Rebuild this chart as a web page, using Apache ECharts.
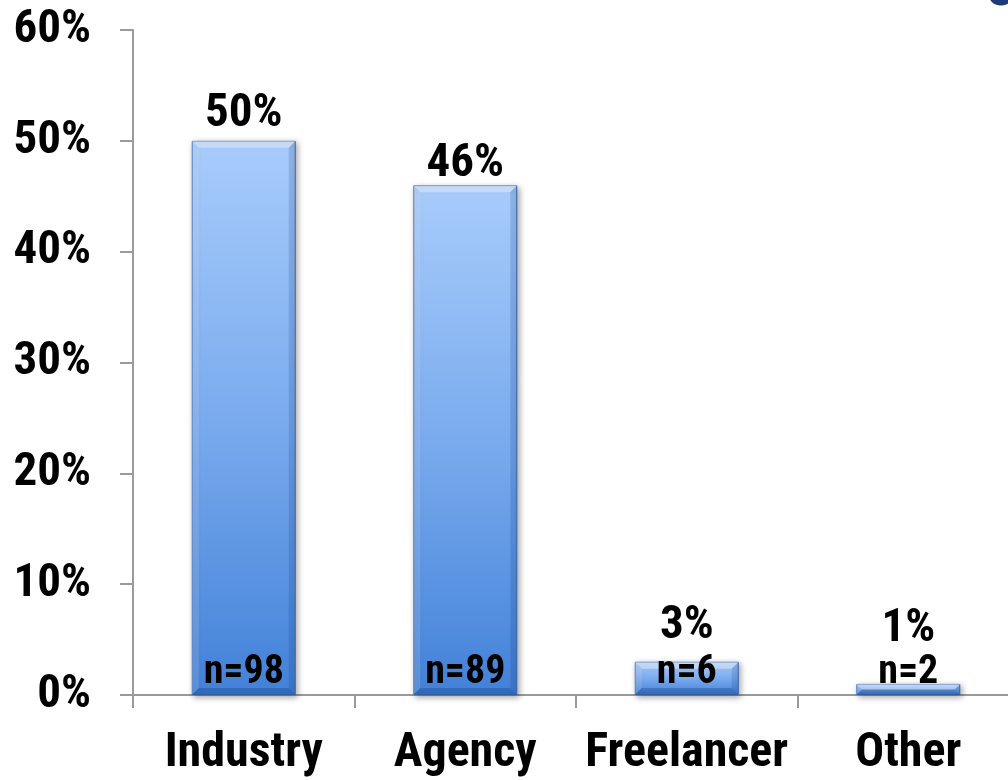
<!DOCTYPE html>
<html>
<head>
<meta charset="utf-8">
<script src="https://cdn.jsdelivr.net/npm/echarts@6/dist/echarts.min.js"></script>
<style>
  html, body { margin: 0; padding: 0; background: #ffffff; overflow: hidden; }
  #chart { width: 1030px; height: 780px; }
</style>
</head>
<body>
<div id="chart"></div>
<script>
// Respondent type breakdown
const categories = ['Industry', 'Agency', 'Freelancer', 'Other'];
const shares = [50, 46, 3, 1];          // percent of respondents
const counts = [98, 89, 6, 2];          // n per group
const yTicks = [0, 10, 20, 30, 40, 50, 60];

// label lift above each bar top (px), styling only
const labelGap = [3, -3, 12, 31];
const BAR_W = 104;
const BEVEL = 7;

const FONT = '"Liberation Sans Narrow", "Arial Narrow", "Roboto Condensed", "Liberation Sans", Arial, sans-serif';

const barFill = new echarts.graphic.LinearGradient(0, 0, 0, 1, [
  { offset: 0, color: '#a8ccfb' },
  { offset: 0.5, color: '#7aabee' },
  { offset: 1, color: '#4281d8' }
]);

// bevelled edges drawn over each bar, using the same axis coordinates
function bevelItem(params, api) {
  const idx = api.value(0);
  const val = api.value(1);
  const top = api.coord([idx, val]);
  const base = api.coord([idx, 0]);
  const x0 = top[0] - BAR_W / 2, x1 = top[0] + BAR_W / 2;
  const y0 = top[1], y1 = base[1];
  const b = Math.min(BEVEL, (y1 - y0) / 2);
  const poly = (pts, fill) => ({ type: 'polygon', shape: { points: pts }, style: { fill: fill }, silent: true });
  return {
    type: 'group',
    children: [
      poly([[x0, y0], [x1, y0], [x1 - b, y0 + b], [x0 + b, y0 + b]], 'rgba(255,255,255,0.38)'),
      poly([[x0, y0], [x0 + b, y0 + b], [x0 + b, y1 - b], [x0, y1]], 'rgba(255,255,255,0.14)'),
      poly([[x1, y0], [x1, y1], [x1 - b, y1 - b], [x1 - b, y0 + b]], 'rgba(10,50,120,0.16)'),
      poly([[x0, y1], [x0 + b, y1 - b], [x1 - b, y1 - b], [x1, y1]], 'rgba(10,50,120,0.28)')
    ]
  };
}

const chart = echarts.init(document.getElementById('chart'), null, { renderer: 'canvas' });

chart.setOption({
  animation: false,
  backgroundColor: '#ffffff',
  grid: { left: 133, top: 30, width: 886, height: 665, containLabel: false },
  xAxis: {
    type: 'category',
    data: categories,
    axisLine: { show: true, lineStyle: { color: '#9a9a9a', width: 2 } },
    axisTick: { show: true, length: 13, lineStyle: { color: '#9a9a9a', width: 2 } },
    axisLabel: {
      interval: 0,
      margin: 35,
      color: '#000000',
      fontFamily: FONT,
      fontWeight: 'bold',
      fontSize: 48
    }
  },
  yAxis: {
    type: 'value',
    min: yTicks[0],
    max: yTicks[yTicks.length - 1],
    interval: yTicks[1] - yTicks[0],
    splitLine: { show: false },
    axisLine: { show: true, lineStyle: { color: '#9a9a9a', width: 2 } },
    axisTick: { show: true, length: 13, lineStyle: { color: '#9a9a9a', width: 2 } },
    axisLabel: {
      margin: 42,
      color: '#000000',
      fontFamily: FONT,
      fontWeight: 'bold',
      fontSize: 47,
      formatter: v => v + '%'
    }
  },
  series: [
    {
      type: 'bar',
      barWidth: BAR_W,
      data: shares.map((v, i) => ({
        value: v,
        label: { distance: labelGap[i] }
      })),
      itemStyle: {
        color: barFill,
        borderColor: '#3f70b8',
        borderWidth: 1,
        shadowColor: 'rgba(0,0,0,0.35)',
        shadowBlur: 6,
        shadowOffsetX: 2,
        shadowOffsetY: 2
      },
      label: {
        show: true,
        position: 'top',
        color: '#000000',
        fontFamily: FONT,
        fontWeight: 'bold',
        fontSize: 47,
        formatter: p => p.value + '%'
      },
      z: 1
    },
    {
      type: 'custom',
      silent: true,
      renderItem: bevelItem,
      data: shares.map((v, i) => [i, v]),
      encode: { x: 0, y: 1 },
      z: 2
    },
    {
      type: 'bar',
      barWidth: BAR_W,
      barGap: '-100%',
      silent: true,
      data: shares,
      itemStyle: { color: 'rgba(0,0,0,0)' },
      label: {
        show: true,
        position: 'insideBottom',
        distance: 2,
        color: '#000000',
        fontFamily: FONT,
        fontWeight: 'bold',
        fontSize: 40,
        formatter: p => 'n=' + counts[p.dataIndex]
      },
      z: 3
    }
  ],
  graphic: [
    {
      type: 'text',
      x: 986,
      y: -40,
      style: { text: 'o', fill: '#1f3a78', font: 'bold 60px ' + FONT }
    }
  ]
});
</script>
</body>
</html>
